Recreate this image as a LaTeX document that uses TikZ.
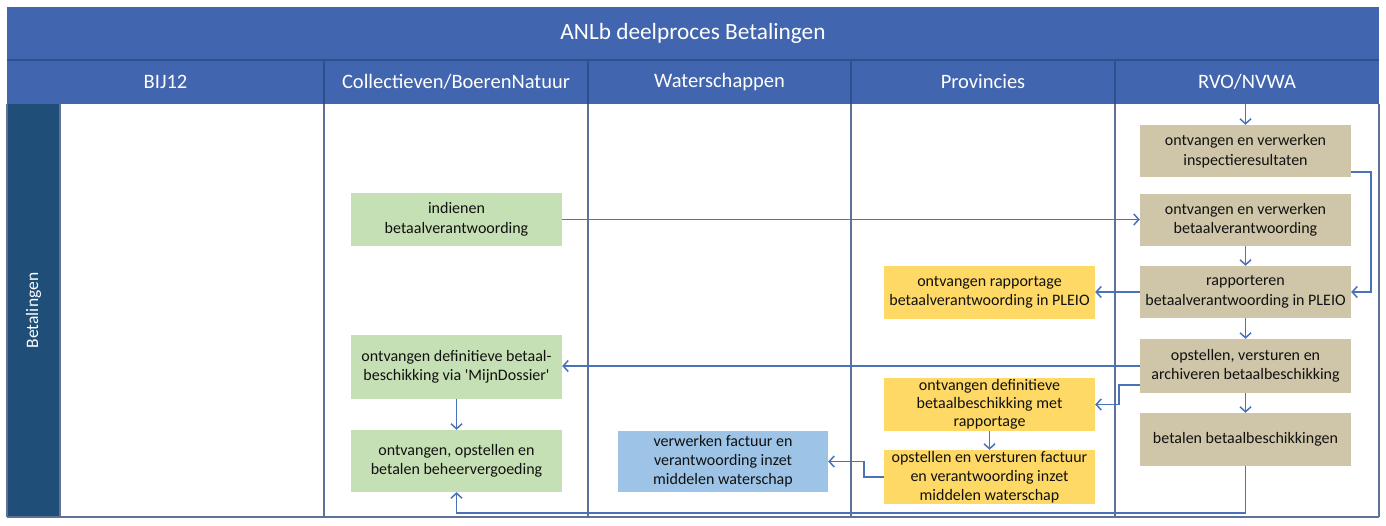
\documentclass[tikz,border=0pt]{standalone}
\usepackage{fontspec}
\setmainfont{Carlito}
\usetikzlibrary{arrows.meta,calc}
\definecolor{titleblue}{HTML}{4165AE}
\definecolor{darkline}{HTML}{2F508F}
\definecolor{lanedark}{HTML}{1F4E79}
\definecolor{gridline}{HTML}{5E7196}
\definecolor{arrowblue}{HTML}{4A72B9}
\definecolor{tanfill}{HTML}{CFC5A8}
\definecolor{greenfill}{HTML}{C5E0B4}
\definecolor{yellowfill}{HTML}{FFD966}
\definecolor{bluefill}{HTML}{9DC3E6}
\definecolor{txt}{HTML}{111111}
\tikzset{
  proc/.style={inner sep=0pt, minimum width=211pt, align=center, text=txt,
    font=\fontsize{16}{19.5}\selectfont},
  rvo/.style={proc, fill=tanfill},
  coll/.style={proc, fill=greenfill},
  prov/.style={proc, fill=yellowfill},
  water/.style={proc, fill=bluefill},
  hdr/.style={text=white, inner sep=0pt, font=\fontsize{20.5}{24}\selectfont},
  arr/.style={draw=arrowblue, line width=1.8pt, -{Straight Barb[length=5pt,width=11pt,line width=1.5pt]}},
  grid/.style={draw=gridline, line width=1.6pt}
}
\begin{document}
\begin{tikzpicture}[x=1pt,y=-1pt]
\useasboundingbox (0,0) rectangle (1386,526);
\fill[white] (0,0) rectangle (1386,526);
% title and header bands
\fill[titleblue] (7,7) rectangle (1379,104);
\draw[darkline, line width=1.2pt] (7,60) -- (1379,60);
\foreach \xx in {324,588,851,1115} \draw[darkline, line width=1.2pt] (\xx,60) -- (\xx,104);
% lane label column
\fill[lanedark] (7,104) rectangle (60,517);
% body grid
\foreach \xx in {324,588,851,1115} \draw[grid] (\xx,104) -- (\xx,517);
\draw[grid] (60,104) -- (60,517);
\draw[grid] (7,517) -- (1379,517);
\draw[grid] (1379,104) -- (1379,517);
\draw[grid] (7,104) -- (7,517);
% texts
\node[text=white, inner sep=0pt, font=\fontsize{23.3}{28}\selectfont] (title) at (693,33.5) {ANLb deelproces Betalingen};
\node[hdr] (hbij) at (165.5,82) {BIJ12};
\node[hdr] (hcoll) at (456,82) {Collectieven/BoerenNatuur};
\node[hdr] (hwater) at (719.5,82) {Waterschappen};
\node[hdr] (hprov) at (983,82) {Provincies};
\node[hdr] (hrvo) at (1247,82) {RVO/NVWA};
\node[rotate=90, text=white, inner sep=0pt, font=\fontsize{17.5}{21}\selectfont] (lanelbl) at (33.5,310.5) {Betalingen};
\coordinate (rvotop) at (1245.5,104);
% RVO boxes
\node[rvo, minimum height=52pt] (b1) at (1245.5,151) {ontvangen en verwerken\\inspectieresultaten};
\node[rvo, minimum height=52pt] (b2) at (1245.5,220) {ontvangen en verwerken\\betaalverantwoording};
\node[rvo, minimum height=52pt] (b3) at (1245.5,292) {rapporteren\\betaalverantwoording in PLEIO};
\node[rvo, minimum height=54pt] (b4) at (1245.5,366) {opstellen, versturen en\\archiveren betaalbeschikking};
\node[rvo, minimum height=53pt] (b5) at (1245.5,439.5) {betalen betaalbeschikkingen};
% Collectieven boxes
\node[coll, minimum height=53pt] (g1) at (456.5,219.5) {indienen\\betaalverantwoording};
\node[coll, minimum height=63pt] (g2) at (456.5,367) {ontvangen definitieve betaal-\\beschikking via \textquotesingle MijnDossier\textquotesingle};
\node[coll, minimum height=62pt] (g3) at (456.5,461) {ontvangen, opstellen en\\betalen beheervergoeding};
% Provincies boxes
\node[prov, minimum height=53pt] (y1) at (989.5,292.5) {ontvangen rapportage\\betaalverantwoording in PLEIO};
\node[prov, minimum height=53pt, font=\fontsize{16}{18}\selectfont] (y2) at (989.5,404.5) {ontvangen definitieve\\betaalbeschikking met\\rapportage};
\node[prov, minimum height=54pt, font=\fontsize{16}{19}\selectfont] (y3) at (989.5,477) {opstellen en versturen factuur\\en verantwoording inzet\\middelen waterschap};
% Waterschappen box
\node[water, minimum width=210pt, minimum height=61pt, font=\fontsize{16}{19}\selectfont] (w1) at (723,461.5) {verwerken factuur en\\verantwoording inzet\\middelen waterschap};
% connectors
\draw[arr] (rvotop) -- (b1.north);
\draw[arr] ([yshift=5pt]b1.south east) -- ++(20,0) |- (b3.east);
\draw[arr] (g1.east) -- (g1.east -| b2.west);
\draw[arr] (b2.south) -- (b3.north);
\draw[arr] (b3.west) -- (b3.west -| y1.east);
\draw[arr] (b3.south) -- (b4.north);
\draw[arr] (b4.west) -- (b4.west -| g2.east);
\draw[arr] ([yshift=8pt]b4.south west) -- ++(-21,0) |- (y2.east);
\draw[arr] (b4.south) -- (b5.north);
\draw[arr] (y2.south) -- (y3.north);
\draw[arr] (y3.west) -- ++(-20,0) |- (w1.east);
\draw[arr] (g2.south) -- (g3.north);
\draw[arr] (b5.south) -- ++(0,47) -| (g3.south);
\end{tikzpicture}
\end{document}
